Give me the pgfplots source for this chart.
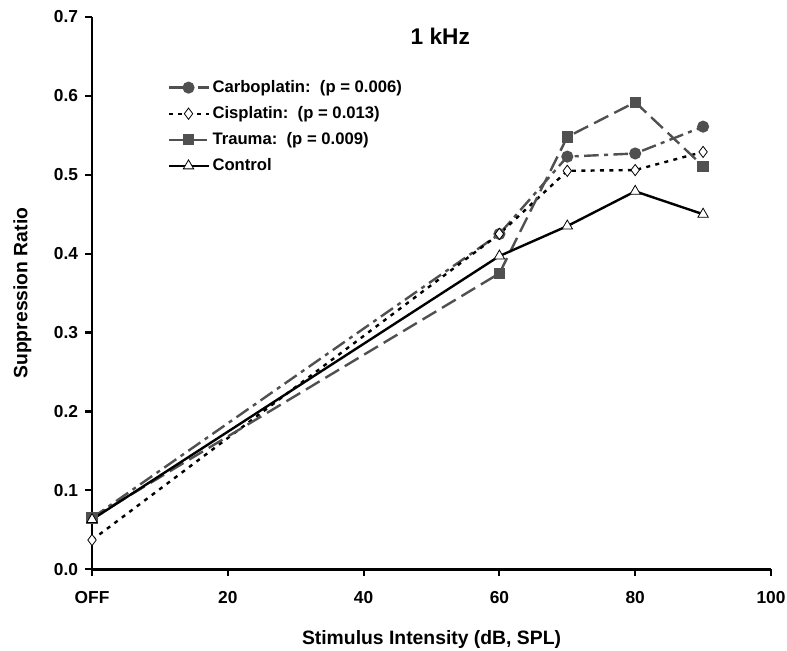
\documentclass[border=0pt]{standalone}
\usepackage{pgfplots}
\pgfplotsset{compat=1.18}
\usepackage{fontspec}
\setmainfont{Liberation Sans}
\definecolor{dg}{HTML}{505050}

\begin{document}
\begin{tikzpicture}
\begin{axis}[
  scale only axis, width=509pt, height=414pt,
  xmin=0, xmax=100, ymin=0, ymax=0.7,
  axis lines=left, axis line style={line width=2pt,-},
  tick align=outside, major tick length=5pt, tick style={line width=1.6pt,black},
  xtick={0,20,40,60,80,100}, xticklabels={OFF,20,40,60,80,100},
  ytick={0,0.1,...,0.7},
  yticklabel style={xshift=-2pt, /pgf/number format/.cd,fixed,fixed zerofill,precision=1},
  /pgf/number format/assume math mode=true,
  tick label style={font=\fontsize{13}{15}\selectfont\bfseries},
  xticklabel style={yshift=-8pt},
  xlabel={Stimulus Intensity (dB, SPL)}, ylabel={Suppression Ratio},
  label style={font=\fontsize{14.5}{17}\selectfont\bfseries},
  xlabel style={yshift=-13pt}, ylabel style={yshift=10pt},
  clip=false,
  legend style={draw=none, fill=none, at={(0.105,0.895)}, anchor=north west,
    font=\fontsize{12.5}{15}\selectfont\bfseries, row sep=5pt},
  legend cell align=left,
  legend image code/.code={\draw[#1] (0cm,0cm) -- (1.05cm,0cm); \draw[#1,solid] plot coordinates {(0.52cm,0cm)};},
]
\addplot[dg, line width=1.8pt, dash pattern=on 11pt off 4pt on 3pt off 4pt,
  mark=*, mark size=3.6pt, mark options={solid, fill=dg, draw=dg}]
  coordinates {(0,0.065) (60,0.425) (70,0.523) (80,0.527) (90,0.561)};
\addlegendentry{Carboplatin:\ \ (p = 0.006)}
\addplot[black, line width=1.8pt, dash pattern=on 3pt off 4pt,
  mark=diamond*, mark size=4.2pt, mark options={solid, fill=white, draw=black, line width=0.6pt}]
  coordinates {(0,0.037) (60,0.425) (70,0.505) (80,0.506) (90,0.529)};
\addlegendentry{Cisplatin:\ \ (p = 0.013)}
\addplot[dg, line width=1.8pt, dash pattern=on 12pt off 5pt,
  mark=square*, mark size=3.3pt, mark options={solid, fill=dg, draw=dg}]
  coordinates {(0,0.065) (60,0.375) (70,0.548) (80,0.592) (90,0.511)};
\addlegendentry{Trauma:\ \ (p = 0.009)}
\addplot[black, line width=1.8pt,
  mark=triangle*, mark size=4.5pt, mark options={solid, fill=white, draw=black, line width=0.6pt}]
  coordinates {(0,0.063) (60,0.397) (70,0.435) (80,0.479) (90,0.450)};
\addlegendentry{Control}
\node[font=\fontsize{17}{20}\selectfont\bfseries] at (axis cs:51.3,0.675) {1 kHz};
\end{axis}
\path (current axis.south west) ++(-69pt,-61pt) coordinate (bbA);
\path (current axis.north east) ++(12pt,12.75pt) coordinate (bbB);
\pgfresetboundingbox
\useasboundingbox (bbA) rectangle (bbB);
\end{tikzpicture}
\end{document}
